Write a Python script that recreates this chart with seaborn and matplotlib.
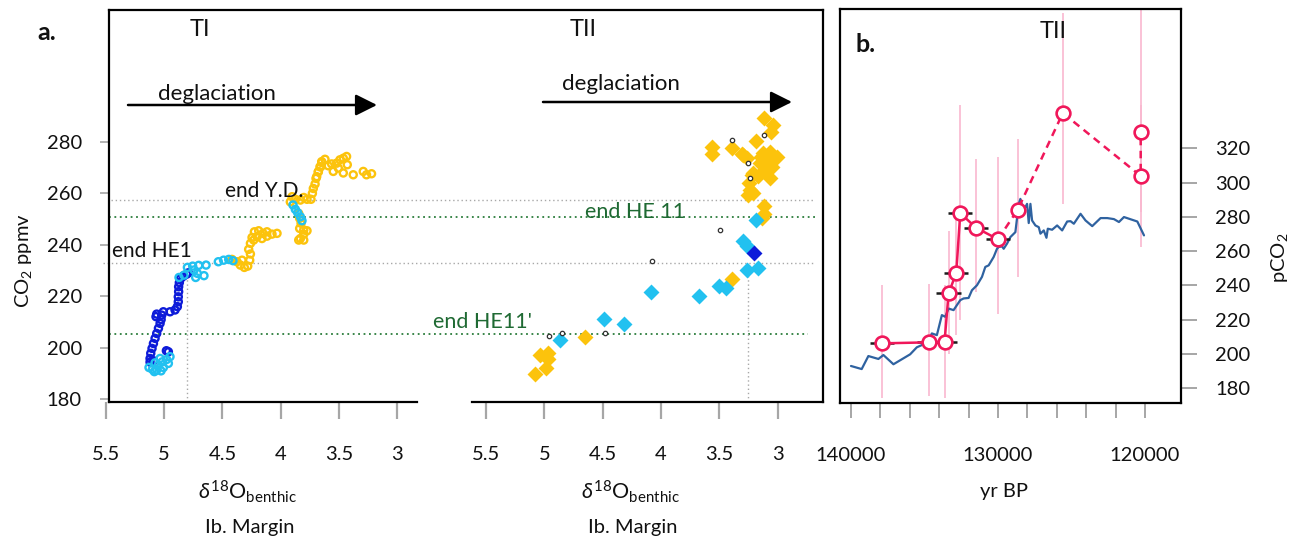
import numpy as np
import pandas as pd
import matplotlib
matplotlib.use("Agg")
import matplotlib.pyplot as plt
import seaborn as sns

# ---------------- data ----------------
# Panel a, Termination I (delta18O benthic, CO2 ppmv), open circles
ti_blue_d18o = [5.12, 5.114, 5.103, 5.091, 5.077, 5.063, 5.048, 5.034, 5.025, 5.02, 5.063, 5.069,
                5.006, 4.949, 4.906, 4.886, 4.878, 4.878, 4.875, 4.875, 4.869, 4.858, 4.835, 4.806,
                4.792, 4.98, 4.963, 5.09, 5.12]
ti_blue_co2 = [195.9, 197.9, 199.8, 201.7, 203.7, 205.6, 207.6, 209.5, 211.0, 212.7, 213.1, 212.1,
               214.0, 214.0, 214.7, 216.0, 217.9, 219.8, 221.8, 223.7, 225.3, 226.9, 227.8, 228.6,
               229.1, 198.9, 198.5, 195.0, 194.5]
ti_cyan_d18o = [5.129, 5.10, 5.063, 5.026, 5.049, 5.015, 4.978, 4.949, 5.077, 5.006, 5.034, 4.963,
                5.083, 4.872, 4.829, 4.80, 4.755, 4.703, 4.64, 4.743, 4.715, 4.658, 4.729, 4.535,
                4.49, 4.446, 4.409, 3.895, 3.875, 3.855, 3.832, 3.818]
ti_cyan_co2 = [192.4, 191.7, 191.4, 191.1, 193.3, 194.6, 195.5, 196.6, 194.2, 192.4, 195.9, 194.0,
               190.8, 227.3, 228.2, 231.2, 231.7, 232.0, 232.1, 230.2, 228.9, 228.0, 227.3, 233.4,
               234.0, 234.3, 233.8, 255.4, 253.7, 252.4, 250.8, 249.3]
ti_gold_d18o = [4.418, 4.375, 4.346, 4.312, 4.283, 4.266, 4.26, 4.275, 4.26, 4.246, 4.226, 4.189,
                4.152, 4.118, 4.075, 4.032, 4.203, 4.161, 4.232, 4.118, 4.332,
                3.918, 3.903, 3.875, 3.832, 3.803, 3.775, 3.838, 3.826, 3.838, 3.803, 3.775, 3.803,
                3.832, 3.846, 3.803, 3.846,
                3.741, 3.729, 3.721, 3.706, 3.698, 3.678, 3.664, 3.649,
                3.692, 3.678, 3.658, 3.649, 3.621, 3.564, 3.521, 3.493, 3.464, 3.436, 3.43, 3.507,
                3.464, 3.379, 3.293, 3.265, 3.222, 3.55, 3.593]
ti_gold_co2 = [234.3, 233.4, 232.1, 231.2, 231.7, 234.0, 236.4, 238.2, 240.5, 242.8, 245.0, 245.4,
               244.4, 245.0, 244.1, 244.4, 243.1, 242.4, 241.8, 243.3, 234.0,
               256.6, 258.6, 257.6, 257.3, 258.3, 257.6, 250.2, 248.3, 246.3, 245.7, 245.4, 244.1,
               242.4, 241.8, 241.8, 252.1,
               257.6, 259.9, 261.8, 263.5, 265.7, 268.3, 270.2, 271.8,
               266.4, 268.3, 270.2, 272.2, 273.1, 271.3, 271.6, 272.9, 273.5, 274.2, 271.0, 269.7,
               267.8, 267.1, 268.4, 267.1, 267.5, 268.4, 270.6]

# Panel a, Termination II, diamonds
tii_gold_d18o = [5.08, 4.99, 4.97, 5.04, 4.97, 4.65, 3.39, 3.135, 3.12, 3.118,
                 3.566, 3.566, 3.395, 3.30, 3.186, 3.115, 3.038, 3.06, 3.309, 3.266, 3.124, 3.067,
                 3.01, 3.095, 3.152, 3.05, 3.21, 3.17, 3.10, 3.25, 3.237, 3.209, 3.252, 3.08, 3.14,
                 3.067, 3.223]
tii_gold_co2 = [189.9, 192.4, 195.6, 197.3, 198.2, 204.4, 226.6, 250.2, 252.0, 255.0,
                277.9, 275.3, 277.6, 274.8, 280.3, 289.0, 286.4, 283.8, 275.0, 273.5, 275.4, 276.1,
                274.1, 272.8, 271.5, 270.2, 267.7, 266.5, 269.0, 263.8, 261.2, 259.9, 259.3, 272.0,
                274.0, 265.7, 267.0]
tii_cyan_d18o = [4.866, 4.489, 4.315, 4.086, 3.672, 3.501, 3.444, 3.295, 3.261, 3.267, 3.172, 3.189]
tii_cyan_co2 = [203.1, 211.1, 209.1, 221.6, 220.1, 224.0, 223.1, 241.6, 239.6, 230.0, 231.1, 249.6]
tii_blue_d18o = [3.203]
tii_blue_co2 = [236.7]
tii_open_d18o = [4.957, 4.852, 4.477, 4.08, 3.495, 3.39, 3.115, 3.258, 3.24]
tii_open_co2 = [204.6, 205.9, 205.7, 233.8, 245.7, 280.6, 282.5, 271.8, 265.7]

# Reference levels (CO2 ppmv)
level_gray = [257.5, 233.0]
level_green = [250.7, 205.2]
vline_ti = 4.8
vline_tii = 3.255

# Panel b: ice-core CO2 (yr BP, ppmv)
ice_year = [140000, 139273, 138818, 138136, 137795, 137113, 135977, 135522, 135181, 134727,
            134500, 134158, 133818, 133590, 133363, 133022, 132568, 132340, 132000, 131772,
            131431, 131090, 130863, 130636, 130295, 130068, 129954, 129727, 129613, 129386,
            129159, 128818, 128590, 128477, 128363, 128136, 128022, 127909, 127795, 127681,
            127454, 127227, 127113, 126886, 126704, 126613, 126318, 125977, 125636, 125295,
            125068, 124841, 124386, 124045, 123590, 123022, 122567, 122113, 121772, 121431,
            120522, 120068]
ice_co2 = [193.0, 191.2, 198.8, 197.1, 199.4, 194.0, 199.8, 203.9, 205.2, 207.7,
           212.0, 211.0, 222.7, 221.7, 226.5, 225.6, 231.4, 232.4, 232.7, 237.2,
           240.1, 245.0, 250.8, 251.7, 256.6, 261.4, 262.4, 262.8, 261.4, 264.4,
           268.2, 271.1, 287.6, 290.5, 286.7, 285.7, 287.6, 276.4, 287.6, 277.9,
           275.0, 274.0, 270.2, 272.1, 267.8, 273.1, 272.5, 275.0, 272.1, 277.3,
           277.5, 276.0, 281.8, 277.9, 274.6, 279.3, 279.3, 278.7, 277.0, 279.9,
           277.3, 269.2]

# Panel b: reconstructed pCO2
pco2_year = [137909, 134681, 133636, 133363, 132840, 132568, 131500, 130000, 128659, 125591, 120293, 120293]
pco2_val = [206.2, 206.8, 207.1, 235.3, 247.3, 282.2, 273.7, 266.9, 284.2, 340.6, 303.9, 329.7]
pco2_low = [174.2, 175.2, 174.3, 200.0, 211.0, 220.0, 236.2, 223.6, 245.0, 287.6, 262.4, 283.0]
pco2_high = [240.1, 241.1, 240.0, 272.0, 284.0, 345.0, 313.8, 314.8, 325.5, 399.1, 345.0, 403.0]
pco2_age_err = [830, 830, 830, 830, 830, 830, 830, 830]

ti_xticks = [5.5, 5, 4.5, 4, 3.5, 3]
ti_xticklabels = ["5.5", "5", "4.5", "4", "3.5", "3"]
co2_ticks = [180, 200, 220, 240, 260, 280]
b_xticks = list(range(140000, 119999, -2000))
b_xticklabels = ["140000" if t == 140000 else "130000" if t == 130000 else "120000" if t == 120000 else ""
                 for t in b_xticks]
b_yticks = [180, 200, 220, 240, 260, 280, 300, 320]

# ---------------- style ----------------
sns.set_theme(style="white")
plt.rcParams["font.family"] = ["Lato", "DejaVu Sans"]
plt.rcParams["mathtext.fontset"] = "custom"
plt.rcParams["mathtext.rm"] = "Lato"
plt.rcParams["mathtext.it"] = "Lato:italic"
plt.rcParams["mathtext.bf"] = "Lato:bold"

BLUE = "#0d1bd9"
CYAN = "#22c1f0"
GOLD = "#fcc30c"
PINK = "#f0175a"
PINKBAR = "#f9b8cf"
ICE = "#2f62a0"
GREEN_T = "#1f6a33"
GREEN_L = "#2b7d3c"
GRAYD = "#a8a8a8"
TICKC = "#a6a6a6"
TXT = "#111111"

W, H = 1298, 539
fig = plt.figure(figsize=(W / 100, H / 100), dpi=100)


def box(l, t, r, b):
    return [l / W, 1 - b / H, (r - l) / W, (b - t) / H]


YLIM_A = (179.03, 330.97)

# frame of panel a
axA = fig.add_axes(box(109, 10, 823, 402))
axA.set_xlim(0, 1)
axA.set_ylim(*YLIM_A)
axA.patch.set_alpha(0)
for s in ["top", "left", "right"]:
    axA.spines[s].set_visible(True)
    axA.spines[s].set_color("black")
    axA.spines[s].set_linewidth(1.6)
axA.spines["bottom"].set_visible(False)
axA.set_xticks([])
axA.set_yticks(co2_ticks)
axA.set_yticklabels([str(t) for t in co2_ticks])
axA.tick_params(axis="y", left=True, direction="out", length=6.5, width=1.2, color=TICKC,
                pad=13, labelsize=14.5, labelcolor=TXT)


def fx(px):
    return (px - 109) / 714.0


for lev, x0, x1 in [(level_gray[0], 111, 815), (level_gray[1], 103, 815)]:
    axA.plot([fx(x0), fx(x1)], [lev, lev], color=GRAYD, lw=1.0, ls=(0, (1, 2)), clip_on=False)
for lev, x0, x1 in [(level_green[0], 109, 818), (level_green[1], 109, 808)]:
    axA.plot([fx(x0), fx(x1)], [lev, lev], color=GREEN_L, lw=1.3, ls=(0, (1, 2)), clip_on=False)


def style_sub(ax, xlim, bounds):
    ax.set_xlim(*xlim)
    ax.set_ylim(*YLIM_A)
    ax.patch.set_alpha(0)
    for s in ["top", "left", "right"]:
        ax.spines[s].set_visible(False)
    ax.spines["bottom"].set_visible(True)
    ax.spines["bottom"].set_color("black")
    ax.spines["bottom"].set_linewidth(1.6)
    ax.spines["bottom"].set_bounds(*bounds)
    ax.set_yticks([])
    ax.set_xticks(ti_xticks)
    ax.set_xticklabels(ti_xticklabels)
    ax.tick_params(axis="x", bottom=True, direction="out", length=12, width=1.6, color=TICKC,
                   pad=19.5, labelsize=14.5, labelcolor=TXT)
    ax.set_xlabel("")
    ax.set_ylabel("")


ax1 = fig.add_axes(box(104, 10, 417, 402))
style_sub(ax1, (5.5146, 2.8325), (2.8325, 5.4717))
ax2 = fig.add_axes(box(472, 10, 823, 402))
style_sub(ax2, (5.62, 2.6123), (2.6123, 5.62))

ax1.plot([vline_ti, vline_ti], [YLIM_A[0], 229], color=GRAYD, lw=1.0, ls=(0, (1, 2)), clip_on=False)
ax2.plot([vline_tii, vline_tii], [YLIM_A[0], 231], color=GRAYD, lw=1.0, ls=(0, (1, 2)), clip_on=False)


def open_scatter(ax, x, y, color, s, lw, marker="o", fill=None):
    sns.scatterplot(x=x, y=y, ax=ax, color=color, s=s, marker=marker, legend=False, zorder=3)
    coll = ax.collections[-1]
    coll.set_facecolor("none" if fill is None else fill)
    coll.set_edgecolor(color)
    coll.set_linewidth(lw)


open_scatter(ax1, ti_blue_d18o, ti_blue_co2, BLUE, 26, 1.7)
open_scatter(ax1, ti_gold_d18o, ti_gold_co2, GOLD, 26, 1.7)
open_scatter(ax1, ti_cyan_d18o, ti_cyan_co2, CYAN, 26, 1.7)

for xs, ys, c in [(tii_gold_d18o, tii_gold_co2, GOLD), (tii_cyan_d18o, tii_cyan_co2, CYAN),
                  (tii_blue_d18o, tii_blue_co2, BLUE)]:
    sns.scatterplot(x=xs, y=ys, ax=ax2, color=c, s=66, marker="D", linewidth=0, legend=False, zorder=3)
open_scatter(ax2, tii_open_d18o, tii_open_co2, "#333333", 10, 0.9, fill="white")
for a in (ax1, ax2):
    a.set_xlabel("")
    a.set_ylabel("")

# arrows and texts for panel a
for (x0, x1, y) in [(128, 377, 105), (543, 792, 102)]:
    fig.add_artist(matplotlib.patches.FancyArrowPatch(
        (x0 / W, 1 - y / H), (x1 / W, 1 - y / H), transform=fig.transFigure,
        arrowstyle="-|>,head_length=13,head_width=6.5", mutation_scale=1,
        lw=1.8, color="black", shrinkA=0, shrinkB=0))


def ftext(px, py, s, **kw):
    fig.text(px / W, 1 - py / H, s, **kw)


ftext(217, 94, "deglaciation", ha="center", va="center", fontsize=16, color=TXT)
ftext(621, 84, "deglaciation", ha="center", va="center", fontsize=16, color=TXT)
ftext(47, 33, "a.", ha="center", va="center", fontsize=18, fontweight="bold", color=TXT)
ftext(200, 30, "TI", ha="center", va="center", fontsize=17, color=TXT)
ftext(583, 30, "TII", ha="center", va="center", fontsize=17, color=TXT)
ftext(112, 251, "end HE1", ha="left", va="center", fontsize=15, color=TXT)
ftext(225, 191, "end Y.D.", ha="left", va="center", fontsize=15, color=TXT)
ftext(585, 212, "end HE 11", ha="left", va="center", fontsize=15.5, color=GREEN_T)
ftext(532, 322, "end HE11'", ha="right", va="center", fontsize=15.5, color=GREEN_T)
ftext(23, 261, "CO$_2$ ppmv", ha="center", va="center", fontsize=14.5, rotation=90, color=TXT)
ftext(247, 492, r"$\delta^{18}$O$_{\mathrm{benthic}}$", ha="center", va="center", fontsize=15.5, color=TXT)
ftext(630, 492, r"$\delta^{18}$O$_{\mathrm{benthic}}$", ha="center", va="center", fontsize=15.5, color=TXT)
ftext(250, 527, "Ib. Margin", ha="center", va="center", fontsize=14.5, color=TXT)
ftext(633, 527, "Ib. Margin", ha="center", va="center", fontsize=14.5, color=TXT)

# ---------------- panel b ----------------
axB = fig.add_axes(box(840, 9, 1181, 403))
axB.set_xlim(140748, 117551)
axB.set_ylim(171.4, 401.3)
for s in axB.spines.values():
    s.set_visible(True)
    s.set_color("black")
    s.set_linewidth(1.6)

axB.vlines(pco2_year, pco2_low, pco2_high, color=PINKBAR, lw=1.2, zorder=1)
sns.lineplot(x=ice_year, y=ice_co2, ax=axB, sort=False, estimator=None, color=ICE, lw=1.6, zorder=2)
n_err = len(pco2_age_err)
axB.hlines(pco2_val[:n_err], [pco2_year[i] - pco2_age_err[i] for i in range(n_err)],
           [pco2_year[i] + pco2_age_err[i] for i in range(n_err)], color="#1c1c1c", lw=1.8, zorder=3)
sns.lineplot(x=pco2_year[:8], y=pco2_val[:8], ax=axB, sort=False, estimator=None, color=PINK,
             lw=1.8, zorder=4)
sns.lineplot(x=pco2_year[7:], y=pco2_val[7:], ax=axB, sort=False, estimator=None, color=PINK,
             lw=1.8, ls=(0, (3, 2.2)), zorder=4)
open_scatter(axB, pco2_year, pco2_val, PINK, 98, 1.9, fill="white")
axB.collections[-1].set_zorder(5)

axB.set_xticks(b_xticks)
axB.set_xticklabels(b_xticklabels)
axB.yaxis.tick_right()
axB.set_yticks(b_yticks)
axB.set_yticklabels([str(t) for t in b_yticks])
axB.tick_params(axis="x", bottom=True, direction="out", length=11, width=1.4, color=TICKC,
                pad=20.5, labelsize=14.5, labelcolor=TXT)
axB.tick_params(axis="y", right=True, left=False, direction="out", length=11.5, width=1.4,
                color=TICKC, pad=13, labelsize=14.5, labelcolor=TXT)
axB.set_xlabel("")
axB.set_ylabel("")

ftext(866, 45, "b.", ha="center", va="center", fontsize=18, fontweight="bold", color=TXT)
ftext(1053, 32, "TII", ha="center", va="center", fontsize=17, color=TXT)
ftext(1004, 492, "yr BP", ha="center", va="center", fontsize=14.5, color=TXT)
ftext(1279, 258, "pCO$_2$", ha="center", va="center", fontsize=14.5, rotation=90, color=TXT)

fig.savefig("out.png", dpi=100)
